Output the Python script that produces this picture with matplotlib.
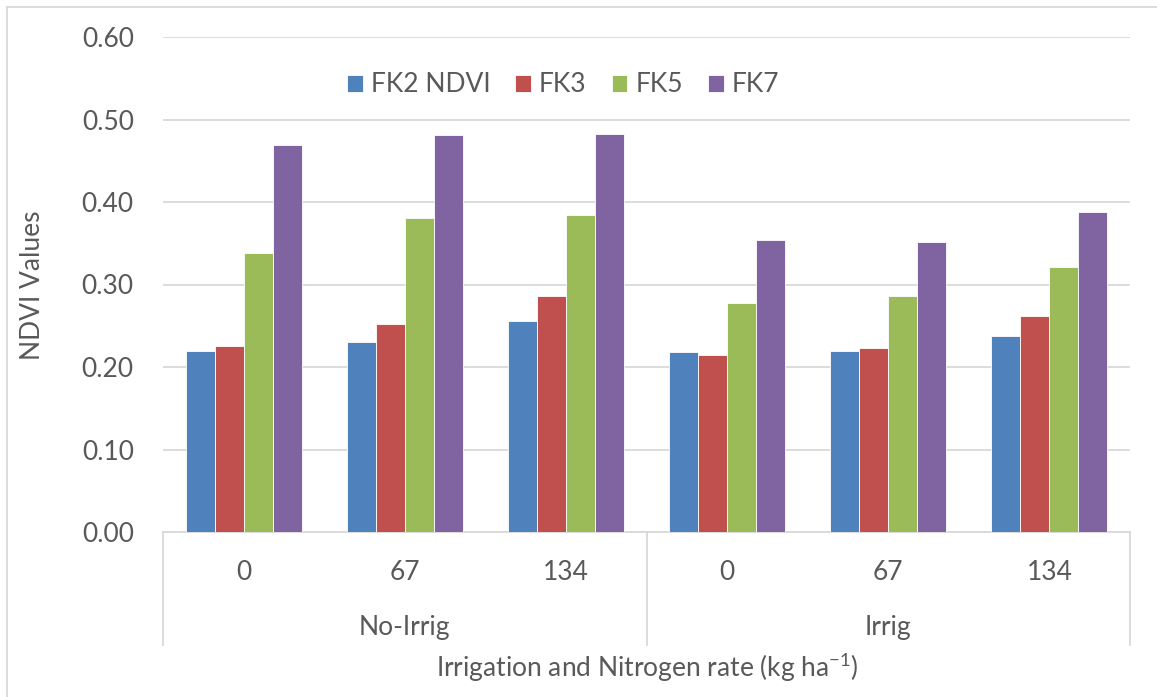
import matplotlib
matplotlib.use("Agg")
import matplotlib.pyplot as plt
import numpy as np
from matplotlib.lines import Line2D

plt.rcParams['font.family'] = ['Lato', 'DejaVu Sans']

rates = ["0", "67", "134", "0", "67", "134"]
groups = ["No-Irrig", "Irrig"]
series_names = ["FK2 NDVI", "FK3", "FK5", "FK7"]
fk2 = [0.219, 0.230, 0.256, 0.218, 0.219, 0.238]
fk3 = [0.225, 0.252, 0.286, 0.215, 0.223, 0.262]
fk5 = [0.338, 0.381, 0.384, 0.277, 0.286, 0.321]
fk7 = [0.469, 0.481, 0.482, 0.354, 0.351, 0.388]
yticks = [0.0, 0.1, 0.2, 0.3, 0.4, 0.5, 0.6]

colors = ["#4F81BD", "#C0504D", "#9BBB59", "#8064A2"]
txt = "#595959"
FS = 19

fig = plt.figure(figsize=(11.57, 6.97), dpi=100)
ax = fig.add_axes([163/1157, 1-532/697, (1130-163)/1157, (532-37)/697])

x = np.arange(len(rates))
w = 0.18
for i, (vals, c, name) in enumerate(zip([fk2, fk3, fk5, fk7], colors, series_names)):
    ax.bar(x + (i - 1.5) * w, vals, width=w, color=c, edgecolor="white",
           linewidth=0.6, label=name, zorder=3)

ax.set_xlim(-0.5, len(rates) - 0.5)
ax.set_ylim(0, 0.6)
ax.set_yticks(yticks)
ax.set_yticklabels([f"{v:.2f}" for v in yticks])
ax.yaxis.grid(True, color="#d9d9d9", linewidth=1.3, zorder=0)
ax.set_axisbelow(True)
for s in ["top", "right", "left"]:
    ax.spines[s].set_visible(False)
ax.spines["bottom"].set_color("#d9d9d9")
ax.spines["bottom"].set_linewidth(1.3)
ax.tick_params(axis="y", length=0, pad=21, labelsize=FS, labelcolor=txt)
ax.set_xticks(x)
ax.set_xticklabels(rates)
ax.tick_params(axis="x", length=0, pad=20, labelsize=FS, labelcolor=txt)

# group separators and labels
trans = ax.get_xaxis_transform()
sep_bottom = -(645 - 532) / (532 - 37)
for xs in [-0.5, 2.5, 5.5]:
    ax.add_line(Line2D([xs, xs], [0, sep_bottom], transform=trans, color="#d9d9d9",
                       linewidth=1.3, clip_on=False))
for gi, g in enumerate(groups):
    ax.text(gi * 3 + 1, -(627 - 532) / (532 - 37), g, transform=trans, ha="center",
            va="center", fontsize=FS, color=txt)

fig.text(647/1157, 1 - 667/697, "Irrigation and Nitrogen rate (kg ha$^{\\mathregular{-1}}$)",
         ha="center", va="center", fontsize=FS, color=txt)
fig.text(33/1157, 1 - 285/697, "NDVI Values", rotation=90, ha="center", va="center",
         fontsize=FS, color=txt)

leg = fig.legend(loc="center", bbox_to_anchor=(563/1157, 1 - 85/697), ncol=4,
                 frameon=False, fontsize=FS, handlelength=0.6, handleheight=0.6,
                 handletextpad=0.3, columnspacing=0.95, labelcolor=txt)

# chart border (left & top)
fig.add_artist(Line2D([7/1157, 7/1157], [0, 1 - 7/697], transform=fig.transFigure,
                      color="#d9d9d9", linewidth=1.3))
fig.add_artist(Line2D([7/1157, 1], [1 - 7/697, 1 - 7/697], transform=fig.transFigure,
                      color="#d9d9d9", linewidth=1.3))

fig.savefig("out.png", dpi=100, facecolor="white")
